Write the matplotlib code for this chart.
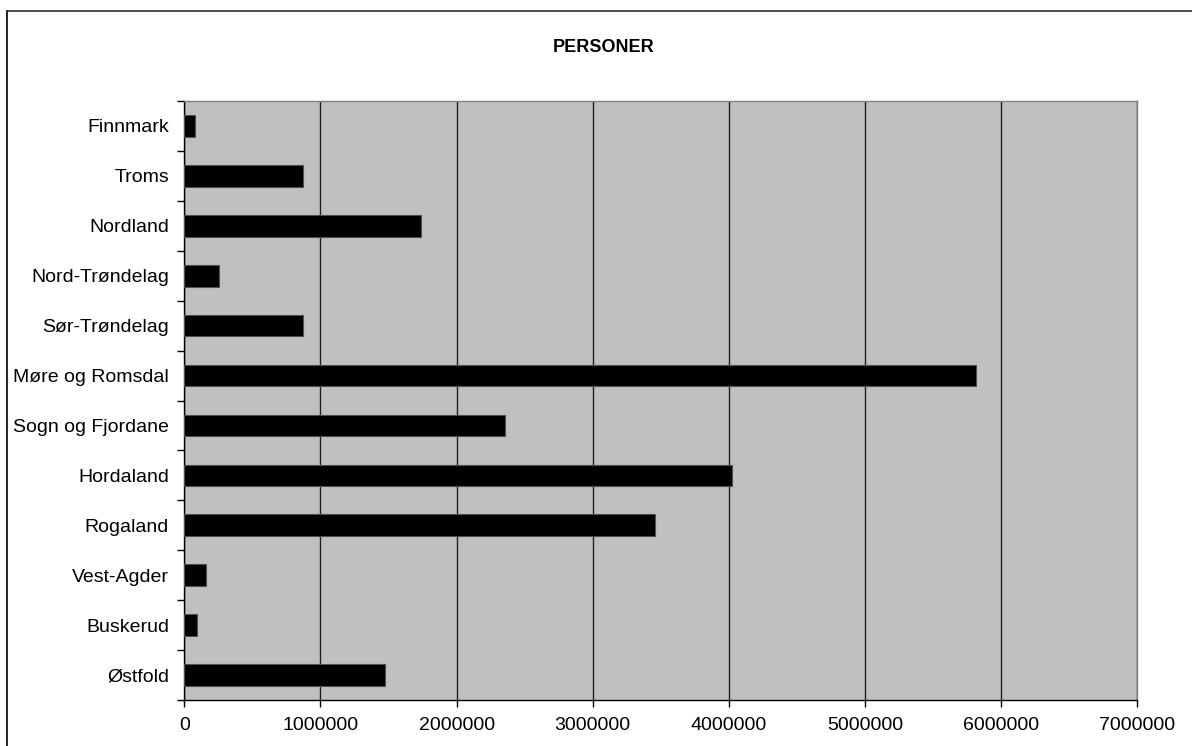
#!/usr/bin/env python3
"""Horizontal bar chart: PERSONER by county, Excel-style grey plot area."""

import matplotlib

matplotlib.use("Agg")
import matplotlib.pyplot as plt
import numpy as np
from matplotlib.lines import Line2D
from matplotlib.ticker import FixedLocator

# Data, listed bottom to top as drawn
COUNTIES = [
    "Østfold",
    "Buskerud",
    "Vest-Agder",
    "Rogaland",
    "Hordaland",
    "Sogn og Fjordane",
    "Møre og Romsdal",
    "Sør-Trøndelag",
    "Nord-Trøndelag",
    "Nordland",
    "Troms",
    "Finnmark",
]
PERSONER = [
    1475000,
    91000,
    159000,
    3460000,
    4023000,
    2353000,
    5818000,
    873000,
    257000,
    1737000,
    871000,
    76000,
]
X_TICKS = [0, 1000000, 2000000, 3000000, 4000000, 5000000, 6000000, 7000000]
TITLE = "PERSONER"

W, H = 1192, 746
plt.rcParams["font.family"] = ["Liberation Sans", "DejaVu Sans"]

fig = plt.figure(figsize=(W / 100, H / 100), dpi=100)
fig.patch.set_facecolor("white")

left, right, top, bottom = 184.3, 1137.3, 101, 700
ax = fig.add_axes([left / W, 1 - bottom / H, (right - left) / W, (bottom - top) / H])
ax.set_facecolor("#C0C0C0")

y = np.arange(len(COUNTIES))
ax.barh(y, PERSONER, height=0.435, color="black", edgecolor="#505050", linewidth=0.8, zorder=3)

ax.set_xlim(0, 7000000)
ax.set_ylim(-0.5, len(COUNTIES) - 0.5)

ax.set_xticks(X_TICKS)
ax.set_xticklabels([str(v) for v in X_TICKS], fontsize=14)
ax.xaxis.grid(True, color="#202020", linewidth=1.0, zorder=1)
ax.set_axisbelow(True)

ax.set_yticks(y)
ax.set_yticklabels(COUNTIES, fontsize=14)
ax.yaxis.set_minor_locator(FixedLocator(np.arange(-0.5, len(COUNTIES), 1.0)))
ax.tick_params(axis="y", which="major", length=0, pad=11)
ax.tick_params(axis="y", which="minor", length=5, width=1.0, color="black", direction="out")
ax.tick_params(axis="x", which="major", length=5, width=1.0, color="black", direction="out", pad=7)

for side in ("left", "bottom"):
    ax.spines[side].set_color("black")
    ax.spines[side].set_linewidth(1.0)
for side in ("top", "right"):
    ax.spines[side].set_color("#808080")
    ax.spines[side].set_linewidth(1.0)

fig.text(604 / W, 1 - 48 / H, TITLE, fontsize=13, fontweight="bold", ha="center", va="center")

# outer chart frame (right and bottom edges fall outside the canvas)
fig.add_artist(Line2D([7 / W, 7 / W], [0, 1 - 11 / H], color="black", linewidth=1.2))
fig.add_artist(Line2D([7 / W, 1], [1 - 11 / H, 1 - 11 / H], color="#303030", linewidth=1.2))

fig.savefig("out.png", dpi=100)
